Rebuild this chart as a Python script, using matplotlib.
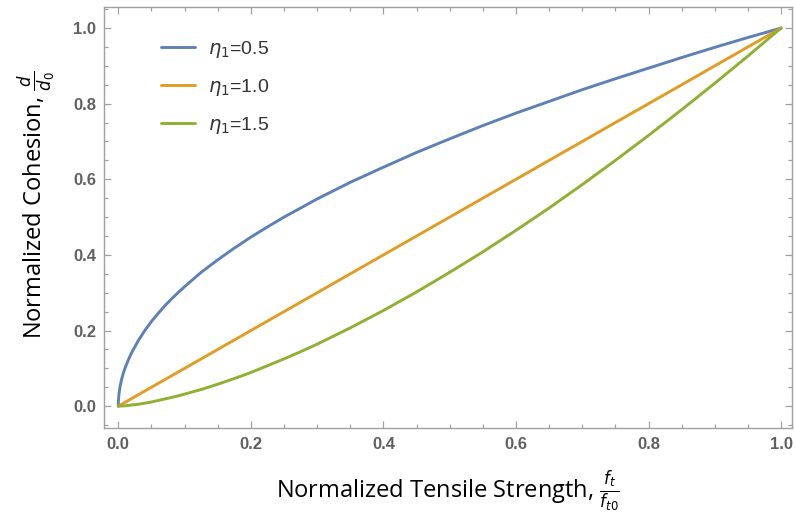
import matplotlib
matplotlib.use("Agg")
import matplotlib.pyplot as plt
from matplotlib.ticker import MultipleLocator

# normalized tensile strength samples (denser near 0 where the sqrt curve bends)
x = [0.0, 0.0002, 0.001, 0.002, 0.003, 0.005, 0.0075, 0.01, 0.015, 0.02,
     0.03, 0.04, 0.05, 0.06, 0.07, 0.08, 0.09, 0.1, 0.125, 0.15, 0.175,
     0.2, 0.225, 0.25, 0.275, 0.3, 0.35, 0.4, 0.45, 0.5, 0.55, 0.6, 0.65,
     0.7, 0.75, 0.8, 0.85, 0.9, 0.95, 1.0]

# normalized cohesion for each eta_1
d_eta05 = [0.0, 0.014, 0.032, 0.045, 0.055, 0.071, 0.087, 0.1, 0.122, 0.141,
           0.173, 0.2, 0.224, 0.245, 0.265, 0.283, 0.3, 0.316, 0.354, 0.387,
           0.418, 0.447, 0.474, 0.5, 0.524, 0.548, 0.592, 0.632, 0.671,
           0.707, 0.742, 0.775, 0.806, 0.837, 0.866, 0.894, 0.922, 0.949,
           0.975, 1.0]
d_eta10 = [0.0, 0.0002, 0.001, 0.002, 0.003, 0.005, 0.0075, 0.01, 0.015,
           0.02, 0.03, 0.04, 0.05, 0.06, 0.07, 0.08, 0.09, 0.1, 0.125, 0.15,
           0.175, 0.2, 0.225, 0.25, 0.275, 0.3, 0.35, 0.4, 0.45, 0.5, 0.55,
           0.6, 0.65, 0.7, 0.75, 0.8, 0.85, 0.9, 0.95, 1.0]
d_eta15 = [0.0, 0.0, 0.0, 0.0001, 0.0002, 0.0004, 0.0006, 0.001, 0.002,
           0.003, 0.005, 0.008, 0.011, 0.015, 0.019, 0.023, 0.027, 0.032,
           0.044, 0.058, 0.073, 0.089, 0.107, 0.125, 0.144, 0.164, 0.207,
           0.253, 0.302, 0.354, 0.408, 0.465, 0.524, 0.586, 0.650, 0.716,
           0.784, 0.854, 0.926, 1.0]

labels = [r"$\eta_1$=0.5", r"$\eta_1$=1.0", r"$\eta_1$=1.5"]
colors = ["#5E81B5", "#E19C24", "#8FB032"]

frame_col = "#a0a0a0"
tick_col = "#606060"

fig = plt.figure(figsize=(7.95, 5.25), dpi=100)
ax = fig.add_axes([0.1308, 0.1853, 0.865, 0.8023])

for ys, lab, c in zip([d_eta05, d_eta10, d_eta15], labels, colors):
    ax.plot(x, ys, color=c, lw=2.1, label=lab, solid_capstyle="round",
            solid_joinstyle="round")

ax.set_xlim(-0.0216, 1.016)
ax.set_ylim(-0.057, 1.057)

ax.xaxis.set_major_locator(MultipleLocator(0.2))
ax.xaxis.set_minor_locator(MultipleLocator(0.05))
ax.yaxis.set_major_locator(MultipleLocator(0.2))
ax.yaxis.set_minor_locator(MultipleLocator(0.05))

for s in ax.spines.values():
    s.set_color(frame_col)
    s.set_linewidth(1.0)

ax.tick_params(which="both", direction="in", top=True, right=True,
               color=frame_col, width=0.9)
ax.tick_params(which="major", length=5, pad=5.5)
ax.tick_params(which="minor", length=3)
ax.tick_params(axis="x", which="major", pad=7)
ax.tick_params(labeltop=False, labelright=False)

for t in ax.get_xticklabels() + ax.get_yticklabels():
    t.set_family("Liberation Sans")
    t.set_fontweight("bold")
    t.set_fontsize(12)
    t.set_color(tick_col)

ax.set_xlabel(r"Normalized Tensile Strength, $\frac{f_t}{f_{t0}}$",
              fontsize=17, family="Open Sans", labelpad=12)
ax.set_ylabel(r"Normalized Cohesion, $\frac{d}{d_0}$",
              fontsize=17, family="Open Sans")
ax.yaxis.set_label_coords(-0.067, 0.53)

leg = ax.legend(loc="upper left", bbox_to_anchor=(0.058, 0.965), frameon=False,
                fontsize=14, handlelength=1.75, handletextpad=0.65,
                labelspacing=0.88)
for t in leg.get_texts():
    t.set_color("#333333")
    t.set_family("Liberation Sans")

fig.savefig("out.png", dpi=100)
